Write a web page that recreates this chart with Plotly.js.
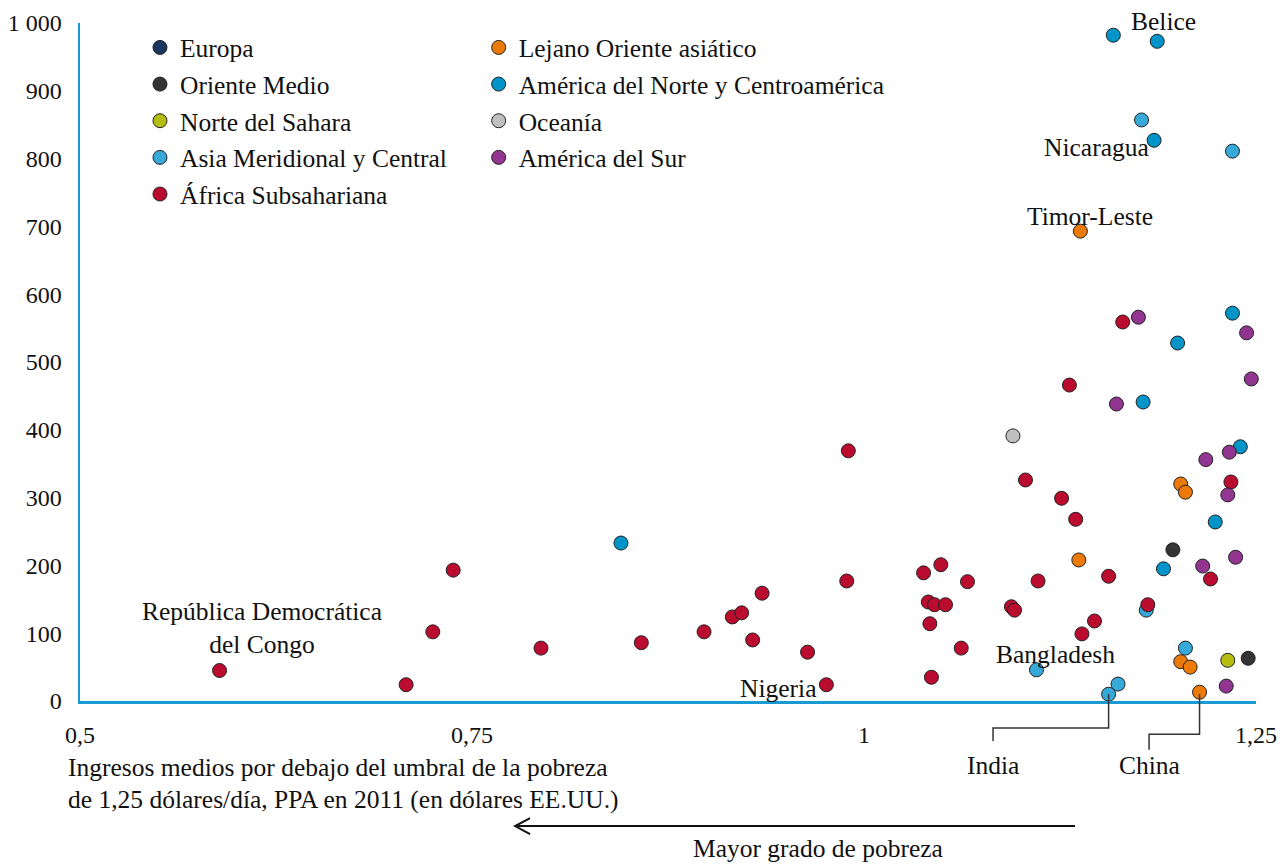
<!DOCTYPE html>
<html>
<head>
<meta charset="utf-8">
<script src="https://cdn.plot.ly/plotly-3.0.1.min.js"></script>
<style>html,body{margin:0;padding:0;background:#fff;}#chart{width:1281px;height:864px;}</style>
</head>
<body>
<div id="chart"></div>
<script>
// ---- data ----
const regionNames = ["Europa", "Oriente Medio", "Norte del Sahara", "Asia Meridional y Central", "África Subsahariana",
                     "Lejano Oriente asiático", "América del Norte y Centroamérica", "Oceanía", "América del Sur"];
const regionColors = ["#1b365f", "#333333", "#b5bd10", "#37a9d8", "#ba0c2f", "#ec7a08", "#0094c9", "#c0c0c0", "#923590"];

const europaX = [];
const europaY = [];
const orienteMedioX = [1.197, 1.245];
const orienteMedioY = [223, 63];
const norteSaharaX = [1.232];
const norteSaharaY = [60];
const asiaMerX = [1.177, 1.235, 1.180, 1.205, 1.110, 1.156, 1.162];
const asiaMerY = [857, 811, 134, 78, 46, 10, 25];
const africaX = [0.589, 0.708, 0.725, 0.738, 0.794, 0.858, 0.898, 0.916, 0.922, 0.929, 0.935, 0.964, 0.976, 0.990, 0.989,
                 1.038, 1.049, 1.041, 1.045, 1.052, 1.042, 1.043, 1.062, 1.066, 1.094, 1.096, 1.103, 1.111, 1.126, 1.135,
                 1.131, 1.139, 1.147, 1.156, 1.165, 1.181, 1.221, 1.234];
const africaY = [45, 24, 102, 193, 78, 86, 102, 124, 130, 90, 159, 72, 24, 369, 177,
                 189, 201, 146, 142, 142, 114, 35, 78, 176, 139, 134, 326, 177, 299, 268,
                 466, 99, 118, 184, 559, 142, 180, 323];
const lejanoX = [1.138, 1.137, 1.202, 1.205, 1.202, 1.208, 1.214];
const lejanoY = [693, 208, 320, 308, 58, 50, 13];
const americaNX = [1.159, 1.187, 1.185, 1.235, 1.200, 1.178, 1.240, 1.224, 1.191, 0.845];
const americaNY = [982, 973, 827, 572, 528, 441, 375, 264, 195, 233];
const oceaniaX = [1.095];
const oceaniaY = [391];
const americaSX = [1.175, 1.244, 1.247, 1.161, 1.233, 1.218, 1.232, 1.237, 1.216, 1.231];
const americaSY = [566, 543, 475, 438, 367, 356, 304, 212, 199, 22];

const xTickVals = [0.5, 0.75, 1, 1.25];
const xTickText = ["0,5", "0,75", "1", "1,25"];
const yTickVals = [0, 100, 200, 300, 400, 500, 600, 700, 800, 900, 1000];
const yTickText = ["0", "100", "200", "300", "400", "500", "600", "700", "800", "900", "1 000"];

const xTitleLines = ["Ingresos medios por debajo del umbral de la pobreza", "de 1,25 dólares/día, PPA en 2011 (en dólares EE.UU.)"];
const arrowText = "Mayor grado de pobreza";

// ---- build ----
const FONT = "Liberation Serif, Times New Roman, serif";
const FS = 25.5;      // legend and annotation text
const FS_TICK = 24;   // tick labels
const AXIS_BLUE = "#1a9ad3";

const seriesX = [europaX, orienteMedioX, norteSaharaX, asiaMerX, africaX, lejanoX, americaNX, oceaniaX, americaSX];
const seriesY = [europaY, orienteMedioY, norteSaharaY, asiaMerY, africaY, lejanoY, americaNY, oceaniaY, americaSY];

const traces = regionNames.map((name, i) => ({
  type: "scatter",
  mode: "markers",
  name: name,
  x: seriesX[i].length ? seriesX[i] : [null],
  y: seriesY[i].length ? seriesY[i] : [null],
  cliponaxis: false,
  legend: i < 5 ? "legend" : "legend2",
  legendgroup: "g" + i,
  marker: {size: 14, color: regionColors[i], line: {color: "#222", width: 1}},
  hoverinfo: "x+y+name"
}));

const indiaX = asiaMerX[5];
const chinaX = lejanoX[6];
const indiaLabelX = 1.0823;
const chinaLabelX = 1.1818;

const legendCommon = {
  font: {family: FONT, size: FS, color: "#111"},
  bgcolor: "rgba(0,0,0,0)",
  traceorder: "grouped",
  tracegroupgap: 0.5,
  xanchor: "left",
  yanchor: "top",
  itemwidth: 30
};

const annText = (text, x, y, xref, yref, extra) => Object.assign({
  text: text, x: x, y: y, xref: xref, yref: yref, showarrow: false,
  xanchor: "center", yanchor: "middle",
  font: {family: FONT, size: FS, color: "#111"}
}, extra || {});

const layout = {
  width: 1281,
  height: 864,
  margin: {l: 80, r: 25, t: 23, b: 163},
  paper_bgcolor: "#fff",
  plot_bgcolor: "#fff",
  font: {family: FONT, size: FS, color: "#111"},
  showlegend: true,
  legend: Object.assign({}, legendCommon, {x: 0.051, y: 0.998}),
  legend2: Object.assign({}, legendCommon, {x: 0.339, y: 0.998}),
  xaxis: {
    range: [0.5, 1.25],
    tickvals: xTickVals, ticktext: xTickText,
    showgrid: false, zeroline: false,
    showline: true, linecolor: AXIS_BLUE, linewidth: 2.5,
    ticks: "", ticklabelstandoff: 11,
    tickfont: {family: FONT, size: FS_TICK, color: "#111"}
  },
  yaxis: {
    range: [0, 1000],
    tickvals: yTickVals, ticktext: yTickText,
    showgrid: false, zeroline: false,
    showline: true, linecolor: AXIS_BLUE, linewidth: 2.5,
    ticks: "", ticklabelstandoff: 11,
    tickfont: {family: FONT, size: FS_TICK, color: "#111"}
  },
  shapes: [
    // India connector
    {type: "path", xref: "x", yref: "paper", line: {color: "#333", width: 1.5},
     path: `M ${indiaX},0.01 L ${indiaX},-0.040 L ${indiaLabelX},-0.040 L ${indiaLabelX},-0.059`},
    // China connector
    {type: "path", xref: "x", yref: "paper", line: {color: "#333", width: 1.5},
     path: `M ${chinaX},0.01 L ${chinaX},-0.049 L ${chinaLabelX},-0.049 L ${chinaLabelX},-0.072`},
    // arrow "Mayor grado de pobreza"
    {type: "path", xref: "paper", yref: "paper", line: {color: "#111", width: 2},
     path: "M 0.8461,-0.1844 L 0.370,-0.1844 M 0.3827,-0.1726 L 0.370,-0.1844 L 0.3827,-0.1962"}
  ],
  annotations: [
    annText("Belice", 1.1907, 1.0015, "x", "paper"),
    annText("Nicaragua", 1.148, 817, "x", "y"),
    annText("Timor-Leste", 1.1441, 714, "x", "y"),
    annText("República Democrática<br>del Congo", 0.616, 108, "x", "y"),
    annText("Nigeria", 0.9707, 19, "x", "y", {xanchor: "right"}),
    annText("Bangladesh", 1.1224, 68, "x", "y"),
    annText("India", indiaLabelX, -0.0944, "x", "paper"),
    annText("China", chinaLabelX, -0.0944, "x", "paper"),
    annText(xTitleLines[0], -0.0119, -0.0988, "paper", "paper", {xanchor: "left"}),
    annText(xTitleLines[1], -0.0119, -0.1460, "paper", "paper", {xanchor: "left"}),
    annText(arrowText, 0.6276, -0.2180, "paper", "paper")
  ]
};

Plotly.newPlot("chart", traces, layout, {displayModeBar: false, staticPlot: true});
</script>
</body>
</html>
